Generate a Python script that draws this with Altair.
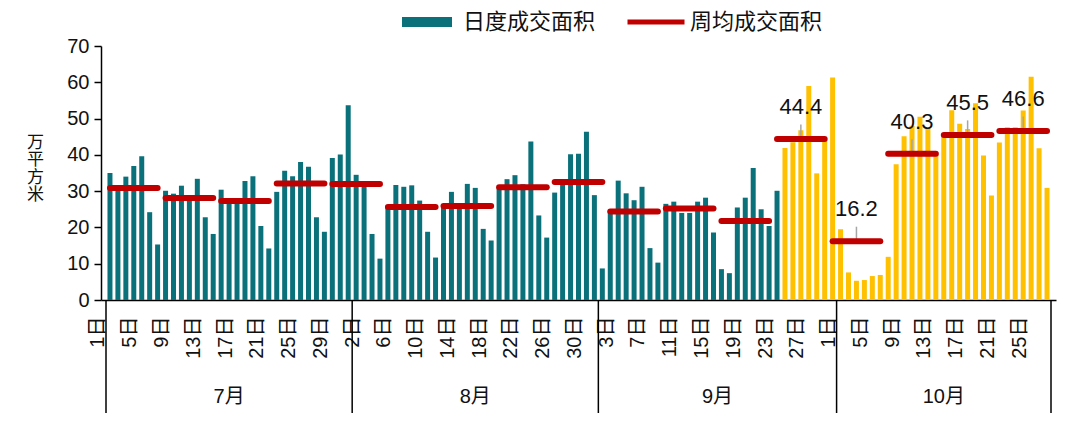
import altair as alt
import pandas as pd

# ---------------- data ----------------
months = ["7月", "8月", "9月", "10月"]
month_lengths = [31, 31, 30, 27]

jul = [35.0, 31.0, 34.0, 36.9, 39.6, 24.2, 15.3, 30.1, 29.3, 31.5, 28.0, 33.4, 22.8, 18.2,
       30.4, 28.0, 28.0, 32.8, 34.1, 20.4, 14.2, 29.8, 35.6, 34.1, 38.0, 36.7, 22.8, 18.8,
       39.1, 40.1, 53.7]
aug = [34.5, 31.3, 18.2, 11.4, 25.8, 31.7, 31.2, 31.6, 27.4, 18.8, 11.7, 25.5, 29.8, 26.0,
       32.0, 30.9, 19.6, 16.4, 30.8, 33.3, 34.4, 31.9, 43.7, 23.3, 17.2, 29.6, 32.8, 40.2,
       40.3, 46.4, 28.9]
sep = [8.7, 24.5, 32.9, 29.4, 27.5, 31.2, 14.3, 10.3, 26.5, 27.1, 24.0, 24.0, 27.1, 28.2,
       18.6, 8.5, 7.4, 25.5, 28.2, 36.4, 25.0, 20.4, 30.1, 41.9, 43.5, 46.8, 59.0, 34.9,
       44.0, 61.3]
oct_ = [19.5, 7.6, 5.3, 5.5, 6.6, 6.9, 11.9, 37.4, 45.1, 48.0, 50.5, 47.5, 40.0, 45.0,
        52.3, 48.6, 47.1, 54.2, 39.8, 28.8, 43.4, 47.6, 47.6, 52.2, 61.5, 41.8, 30.9]

week_avg = [30.9, 28.1, 27.3, 32.1, 32.0, 25.6, 25.9, 31.1, 32.5, 24.4, 25.2, 21.8,
            44.4, 16.2, 40.3, 45.5, 46.6]
labeled_from_week = 12

tick_labels = ["1日", "5日", "9日", "13日", "17日", "21日", "25日", "29日",
               "2日", "6日", "10日", "14日", "18日", "22日", "26日", "30日",
               "3日", "7日", "11日", "15日", "19日", "23日", "27日",
               "1日", "5日", "9日", "13日", "17日", "21日", "25日"]

series_daily = "日度成交面积"
series_week = "周均成交面积"
series_after = "9月24日后"
highlight_month, highlight_day = 2, 24   # 9月24日起

# ---------------- tables ----------------
daily = jul + aug + sep + oct_
rows = []
i = 0
for m, (name, n) in enumerate(zip(months, month_lengths)):
    for d in range(1, n + 1):
        after = (m > highlight_month) or (m == highlight_month and d >= highlight_day)
        rows.append({"x": i, "value": daily[i], "kind": series_after if after else series_daily})
        i += 1
df = pd.DataFrame(rows)
n_days = len(df)

wk = pd.DataFrame({
    "x": [w * 7 for w in range(len(week_avg))],
    "x2": [w * 7 + 6 for w in range(len(week_avg))],
    "avg": week_avg,
    "series": series_week,
})
wk["center"] = (wk["x"] + wk["x2"]) / 2
wk_lab = wk.iloc[labeled_from_week:].copy()

bounds = [-0.5]
for n in month_lengths:
    bounds.append(bounds[-1] + n)
sep_df = pd.DataFrame({"x": bounds})
mon_df = pd.DataFrame({"x": [(bounds[k] + bounds[k + 1]) / 2 for k in range(len(months))],
                       "label": months})

# ---------------- styling ----------------
TEAL = "#0a717b"
GOLD = "#ffc000"
RED = "#c00000"
INK = "#111111"
FONT = "Liberation Sans, Noto Sans CJK SC, sans-serif"

W, H = 955, 254

label_expr = "[" + ",".join("'%s'" % t for t in tick_labels) + "][round(datum.value / 4)]"

xscale = alt.Scale(domain=[-0.5, n_days - 0.5], nice=False, zero=False)
xaxis = alt.Axis(values=list(range(0, n_days, 4)), labelExpr=label_expr, labelAngle=-90,
                 labelFontSize=20, labelColor=INK, labelPadding=16, labelOffset=-12,
                 labelFlush=False, labelOverlap=False, ticks=False, grid=False,
                 domainColor="#000000", domainWidth=1.5, title=None)
yscale = alt.Scale(domain=[0, 70], nice=False, zero=True)
yaxis = alt.Axis(values=list(range(0, 71, 10)), labelFontSize=20, labelColor=INK,
                 tickSize=7, tickColor="#000000", tickWidth=1.5, labelPadding=5,
                 domainColor="#000000", domainWidth=1.5, grid=False,
                 title=["万", "平", "方", "米"], titleAngle=0, titleFontSize=17,
                 titleLineHeight=17.5, titleFontWeight="normal", titleColor=INK,
                 titleX=-66, titleY=96, titleAlign="center", titleBaseline="middle")


def X(field):
    return alt.X(f"{field}:Q", scale=xscale, axis=xaxis)


def Y(field):
    return alt.Y(f"{field}:Q", scale=yscale, axis=yaxis)


bars = alt.Chart(df).mark_bar(width=5).encode(
    x=X("x"),
    y=Y("value"),
    fill=alt.Fill("kind:N",
                  scale=alt.Scale(domain=[series_daily, series_after], range=[TEAL, GOLD]),
                  legend=alt.Legend(orient="none", legendX=301, legendY=-49, title=None,
                                    values=[series_daily], symbolType="M-1,-0.2H1V0.2H-1Z",
                                    symbolSize=2500, symbolStrokeWidth=0, labelFontSize=22,
                                    labelColor=INK, labelOffset=11, padding=0)),
)

leaders = alt.Chart(wk_lab).transform_calculate(top="datum.avg + 4").mark_rule(
    color="#a6a6a6", strokeWidth=1.5
).encode(x=X("center"), y=Y("avg"), y2="top:Q")

weeks = alt.Chart(wk).mark_rule(strokeWidth=6, strokeCap="round").encode(
    x=X("x"),
    x2="x2:Q",
    y=Y("avg"),
    stroke=alt.Stroke("series:N", scale=alt.Scale(domain=[series_week], range=[RED]),
                      legend=alt.Legend(orient="none", legendX=524, legendY=-55, title=None,
                                        symbolType="stroke", symbolSize=3249,
                                        symbolStrokeWidth=5, labelFontSize=22,
                                        labelColor=INK, labelOffset=3, padding=0)),
)

labels = alt.Chart(wk_lab).mark_text(fontSize=22, dy=-32, color=INK, baseline="middle").encode(
    x=X("center"), y=Y("avg"), text=alt.Text("avg:Q", format=".1f")
)

seps = alt.Chart(sep_df).mark_rule(color="#000000", strokeWidth=1.5).encode(
    x=X("x"), y=alt.value(H), y2=alt.value(H + 116)
)

mon = alt.Chart(mon_df).mark_text(fontSize=20, color=INK, baseline="middle").encode(
    x=X("x"), y=alt.value(H + 97), text="label:N"
)

chart = alt.layer(bars, leaders, weeks, labels, seps, mon).properties(
    width=W, height=H,
    autosize=alt.AutoSizeParams(type="none"),
    padding={"left": 93, "top": 38, "right": 16, "bottom": 113},
).configure(font=FONT).configure_view(strokeWidth=0)

chart.save("out.html", embed_options={"renderer": "svg", "actions": False})
